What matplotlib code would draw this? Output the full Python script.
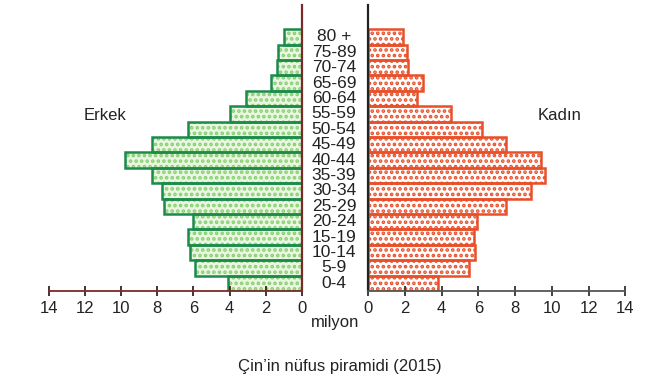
import matplotlib
matplotlib.use("Agg")
import matplotlib.pyplot as plt
from matplotlib.transforms import blended_transform_factory

plt.rcParams['font.family'] = ['Liberation Sans', 'DejaVu Sans']
plt.rcParams['hatch.linewidth'] = 1.8

age_groups = ["0-4", "5-9", "10-14", "15-19", "20-24", "25-29", "30-34", "35-39",
              "40-44", "45-49", "50-54", "55-59", "60-64", "65-69", "70-74", "75-89", "80 +"]
male = [4.1, 5.9, 6.2, 6.3, 6.05, 7.6, 7.75, 8.3, 9.8, 8.3, 6.3, 4.0, 3.1, 1.7, 1.4, 1.3, 1.0]
female = [3.8, 5.5, 5.8, 5.75, 5.95, 7.5, 8.85, 9.65, 9.4, 7.5, 6.2, 4.5, 2.65, 3.0, 2.2, 2.1, 1.9]
ticks = [0, 2, 4, 6, 8, 10, 12, 14]

W, H = 666, 384
fig = plt.figure(figsize=(W / 100, H / 100), dpi=100)

def fx(px):
    return px / W

def fy(py):
    return 1 - py / H

top_px, bot_px = 5, 291
axL = fig.add_axes([fx(45), fy(bot_px), fx(302) - fx(45), fy(top_px) - fy(bot_px)])
axR = fig.add_axes([fx(368), fy(bot_px), fx(629) - fx(368), fy(top_px) - fy(bot_px)])

y = list(range(len(age_groups)))
green_edge = "#1b8a4c"
green_fill = "#eaf6e2"
green_dot = "#86d070"
red_edge = "#e8502a"

# male bars
axL.barh(y, male, height=1.0, color=green_fill, edgecolor=green_dot, hatch="...", linewidth=0)
axL.barh(y, male, height=1.0, fill=False, edgecolor=green_edge, linewidth=1.8)
# female bars
axR.barh(y, female, height=1.0, color="white", edgecolor=red_edge, hatch="...", linewidth=0)
axR.barh(y, female, height=1.0, fill=False, edgecolor=red_edge, linewidth=1.8)

ylim = (-0.5, -0.5 + (bot_px - top_px) / 15.4)
for ax in (axL, axR):
    ax.set_ylim(*ylim)
    ax.set_xlim(0, 14.2)
    ax.set_xticks(ticks)
    ax.set_xticklabels([str(t) for t in ticks])
    ax.set_yticks([])
    ax.spines['top'].set_visible(False)
    ax.tick_params(axis='x', direction='inout', length=7, width=1.3, labelsize=12, pad=4,
                   labelcolor="#222222")
    ax.set_facecolor('none')

axL.set_xlim(14.2, 0)
axL.spines['left'].set_visible(False)
axL.spines['right'].set_color("#7a2a2a")
axL.spines['right'].set_linewidth(1.6)
axL.spines['bottom'].set_color("#7a2a2a")
axL.spines['bottom'].set_linewidth(1.3)
axL.spines['bottom'].set_bounds(14, 0)
axL.tick_params(axis='x', color="#3a2222")

axR.spines['right'].set_visible(False)
axR.spines['left'].set_color("#222222")
axR.spines['left'].set_linewidth(1.6)
axR.spines['bottom'].set_color("#555555")
axR.spines['bottom'].set_linewidth(1.3)
axR.spines['bottom'].set_bounds(0, 14)
axR.tick_params(axis='x', color="#333333")

trans = blended_transform_factory(fig.transFigure, axR.transData)
for yi, lab in zip(y, age_groups):
    fig.text(fx(334), yi, lab, transform=trans, ha='center', va='center',
             fontsize=12.5, color="#222222")

fig.text(fx(105), fy(115), "Erkek", ha='center', va='center', fontsize=12, color="#222222")
fig.text(fx(560), fy(115), "Kadın", ha='center', va='center', fontsize=12, color="#222222")
fig.text(fx(335), fy(322), "milyon", ha='center', va='center', fontsize=12, color="#222222")
fig.text(fx(340), fy(366), "Çin\u2019in nüfus piramidi (2015)", ha='center', va='center',
         fontsize=12, color="#222222")

fig.savefig("out.png", dpi=100)
